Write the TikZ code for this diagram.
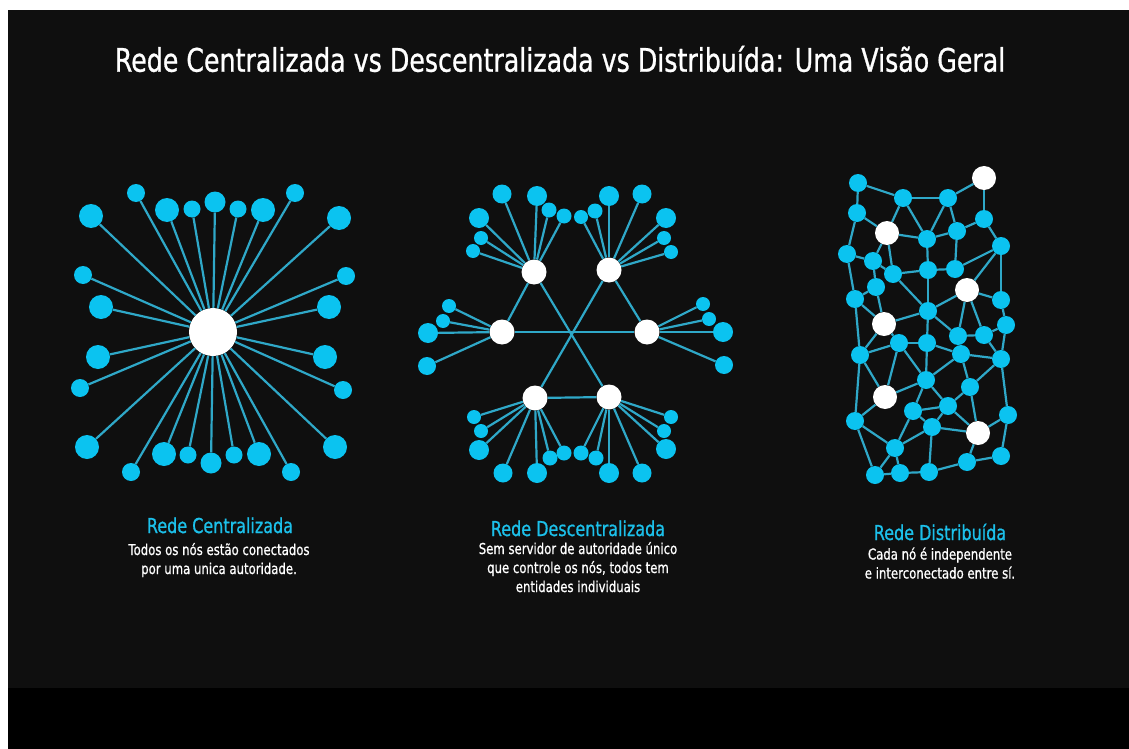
\documentclass[tikz,border=0pt]{standalone}
\usepackage{fontspec}
\setmainfont{DejaVu Sans}[FakeStretch=0.78]
\newfontfamily\heavyfont{DejaVu Sans}[FakeStretch=0.78,FakeBold=0.8]
\definecolor{bgdark}{HTML}{0F0F0F}
\definecolor{nodecyan}{HTML}{0BC3F0}
\definecolor{linkcyan}{HTML}{2FA8C8}
\definecolor{labelcyan}{HTML}{1CC0EA}
\begin{document}
\begin{tikzpicture}
[x=1pt,y=-1pt,
  bluenode/.style={shape=circle,inner sep=0pt,fill=nodecyan,minimum size=#1},%
  whitenode/.style={shape=circle,inner sep=0pt,fill=white,minimum size=#1},%
  meshb/.style={bluenode=18pt},%
  meshw/.style={whitenode=24pt},%
  linkline/.style={-,line width=2.2pt,draw=linkcyan},%
  captitle/.style={anchor=base,inner sep=0pt,text=labelcyan,font=\heavyfont\fontsize{20.5}{24}\selectfont},%
  capdesc/.style={anchor=base,inner sep=0pt,text=white,align=center,font=\heavyfont\fontsize{15}{19}\selectfont}]
%% background
\fill [white] (0,0) rectangle (1129,749);
\fill [bgdark] (8,10) rectangle (1129,688);
\fill [black] (8,688) rectangle (1129,749);
\useasboundingbox (0,0) rectangle (1129,749);
\node (title) [anchor=base,inner sep=0pt,text=white,font=\heavyfont\fontsize{32.4}{38}\selectfont] at (560,71.7)
  {Rede Centralizada vs Descentralizada vs Distribuída: Uma Visão Geral};
%% centralized network
\node (c0) at (213,332) [whitenode=48pt] {};
\foreach \nodename/\x/\y/\d in {
  1/136/193/18, 2/167/210/24, 3/192/209/17, 4/215/202/21, 5/238/209/17,
  6/263/210/24, 7/295/193/18, 8/91/216/24, 9/339/218/24,
  10/83/275/18, 11/101/307/24, 12/98/357/24, 13/80/388/18,
  14/346/276/18, 15/329/307/24, 16/325/357/24, 17/343/390/18,
  18/87/447/24, 19/131/472/18, 20/164/454/24, 21/188/455/17, 22/211/463/21,
  23/234/455/17, 24/259/454/24, 25/291/472/18, 26/335/447/24}
{
  \node (c\nodename) at (\x,\y) [bluenode=\d pt] {};
  \draw [linkline] (c0) -- (c\nodename);
}
%% decentralized network: servers
\foreach \nodename/\x/\y in {1/534/272, 2/609/270, 3/502/332, 4/647/332, 5/535/398, 6/609/397}
  \node (h\nodename) at (\x,\y) [whitenode=25pt] {};
\foreach \a/\b in {1/3, 2/4, 3/4, 1/6, 2/5, 5/6}
  \draw [linkline] (h\a) -- (h\b);
%% decentralized network: clients
\foreach \hub/\x/\y/\d [count=\k] in {
  1/502/194/19, 1/537/196/20, 1/549/210/15, 1/564/216/15, 1/479/218/20, 1/481/238/14, 1/473/251/14,
  2/581/217/14, 2/595/211/15, 2/609/196/20, 2/642/194/19, 2/666/218/20, 2/664/238/14, 2/671/252/14,
  3/449/306/14, 3/443/321/14, 3/428/333/20, 3/427/366/18,
  4/703/304/14, 4/709/319/14, 4/723/332/20, 4/724/365/18,
  5/474/417/14, 5/481/431/14, 5/479/450/20, 5/503/473/19, 5/537/473/20, 5/550/458/15, 5/564/453/15,
  6/581/453/15, 6/596/458/15, 6/609/473/20, 6/642/473/19, 6/666/449/20, 6/664/431/14, 6/671/417/14}
{
  \node (d\k) at (\x,\y) [bluenode=\d pt] {};
  \draw [linkline] (h\hub) -- (d\k);
}
%% distributed network
\foreach \nodename/\x/\y/\kind in {
  1/858/183/meshb, 2/903/198/meshb, 3/948/198/meshb, 4/984/178/meshw,
  5/857/213/meshb, 6/887/233/meshw, 7/927/239/meshb, 8/957/231/meshb,
  9/984/219/meshb, 10/1001/246/meshb, 11/847/254/meshb, 12/873/261/meshb,
  13/893/274/meshb, 14/928/270/meshb, 15/955/269/meshb, 16/876/287/meshb,
  17/967/290/meshw, 18/855/299/meshb, 19/1001/300/meshb, 20/928/311/meshb,
  21/884/324/meshw, 22/1006/325/meshb, 23/958/336/meshb, 24/984/335/meshb,
  25/899/343/meshb, 26/927/343/meshb, 27/860/355/meshb, 28/961/354/meshb,
  29/1001/359/meshb, 30/926/380/meshb, 31/970/387/meshb, 32/885/397/meshw,
  33/913/411/meshb, 34/948/406/meshb, 35/1008/415/meshb, 36/855/421/meshb,
  37/932/427/meshb, 38/978/433/meshw, 39/895/448/meshb, 40/1001/456/meshb,
  41/967/462/meshb, 42/875/475/meshb, 43/900/473/meshb, 44/929/472/meshb}
  \node (n\nodename) at (\x,\y) [\kind] {};
\foreach \a/\b in {
  1/2, 1/5, 2/3, 3/4, 4/9, 2/6, 2/7, 3/7, 3/8, 8/9, 9/10, 5/6, 5/11, 6/7, 7/8, 6/12, 6/13, 7/14, 8/15,
  10/15, 10/17, 10/19, 11/12, 11/18, 12/13, 12/16, 16/18, 13/14, 14/15, 13/20, 14/20, 16/21, 17/20, 17/19,
  17/23, 17/24, 19/22, 18/27, 18/21, 20/21, 20/26, 20/23, 22/24, 22/29, 23/24, 23/28, 24/29, 28/29,
  21/25, 21/27, 25/26, 25/27, 26/28, 26/30, 25/30, 25/32, 27/32, 27/36, 28/30, 28/31, 29/31, 29/35,
  30/32, 30/33, 30/34, 31/34, 31/38, 33/34, 33/37, 34/37, 34/38, 37/38, 32/36, 33/39, 36/39, 36/42,
  37/39, 37/44, 38/35, 38/41, 35/40, 39/42, 39/43, 42/43, 43/44, 44/41, 41/40}
  \draw [linkline] (n\a) -- (n\b);
%% captions (a multi-line node sits on its last baseline)
\node (cenname) [captitle] at (220,533) {Rede Centralizada};
\node (cendesc) [capdesc] at (219,574) {Todos os nós estão conectados\\por uma unica autoridade.};
\node (decname) [captitle] at (578,536) {Rede Descentralizada};
\node (decdesc) [capdesc] at (578,592) {Sem servidor de autoridade único\\que controle os nós, todos tem\\entidades individuais};
\node (disname) [captitle] at (940,540) {Rede Distribuída};
\node (disdesc) [capdesc] at (940,578.5) {Cada nó é independente\\e interconectado entre sí.};
\end{tikzpicture}
\end{document}
